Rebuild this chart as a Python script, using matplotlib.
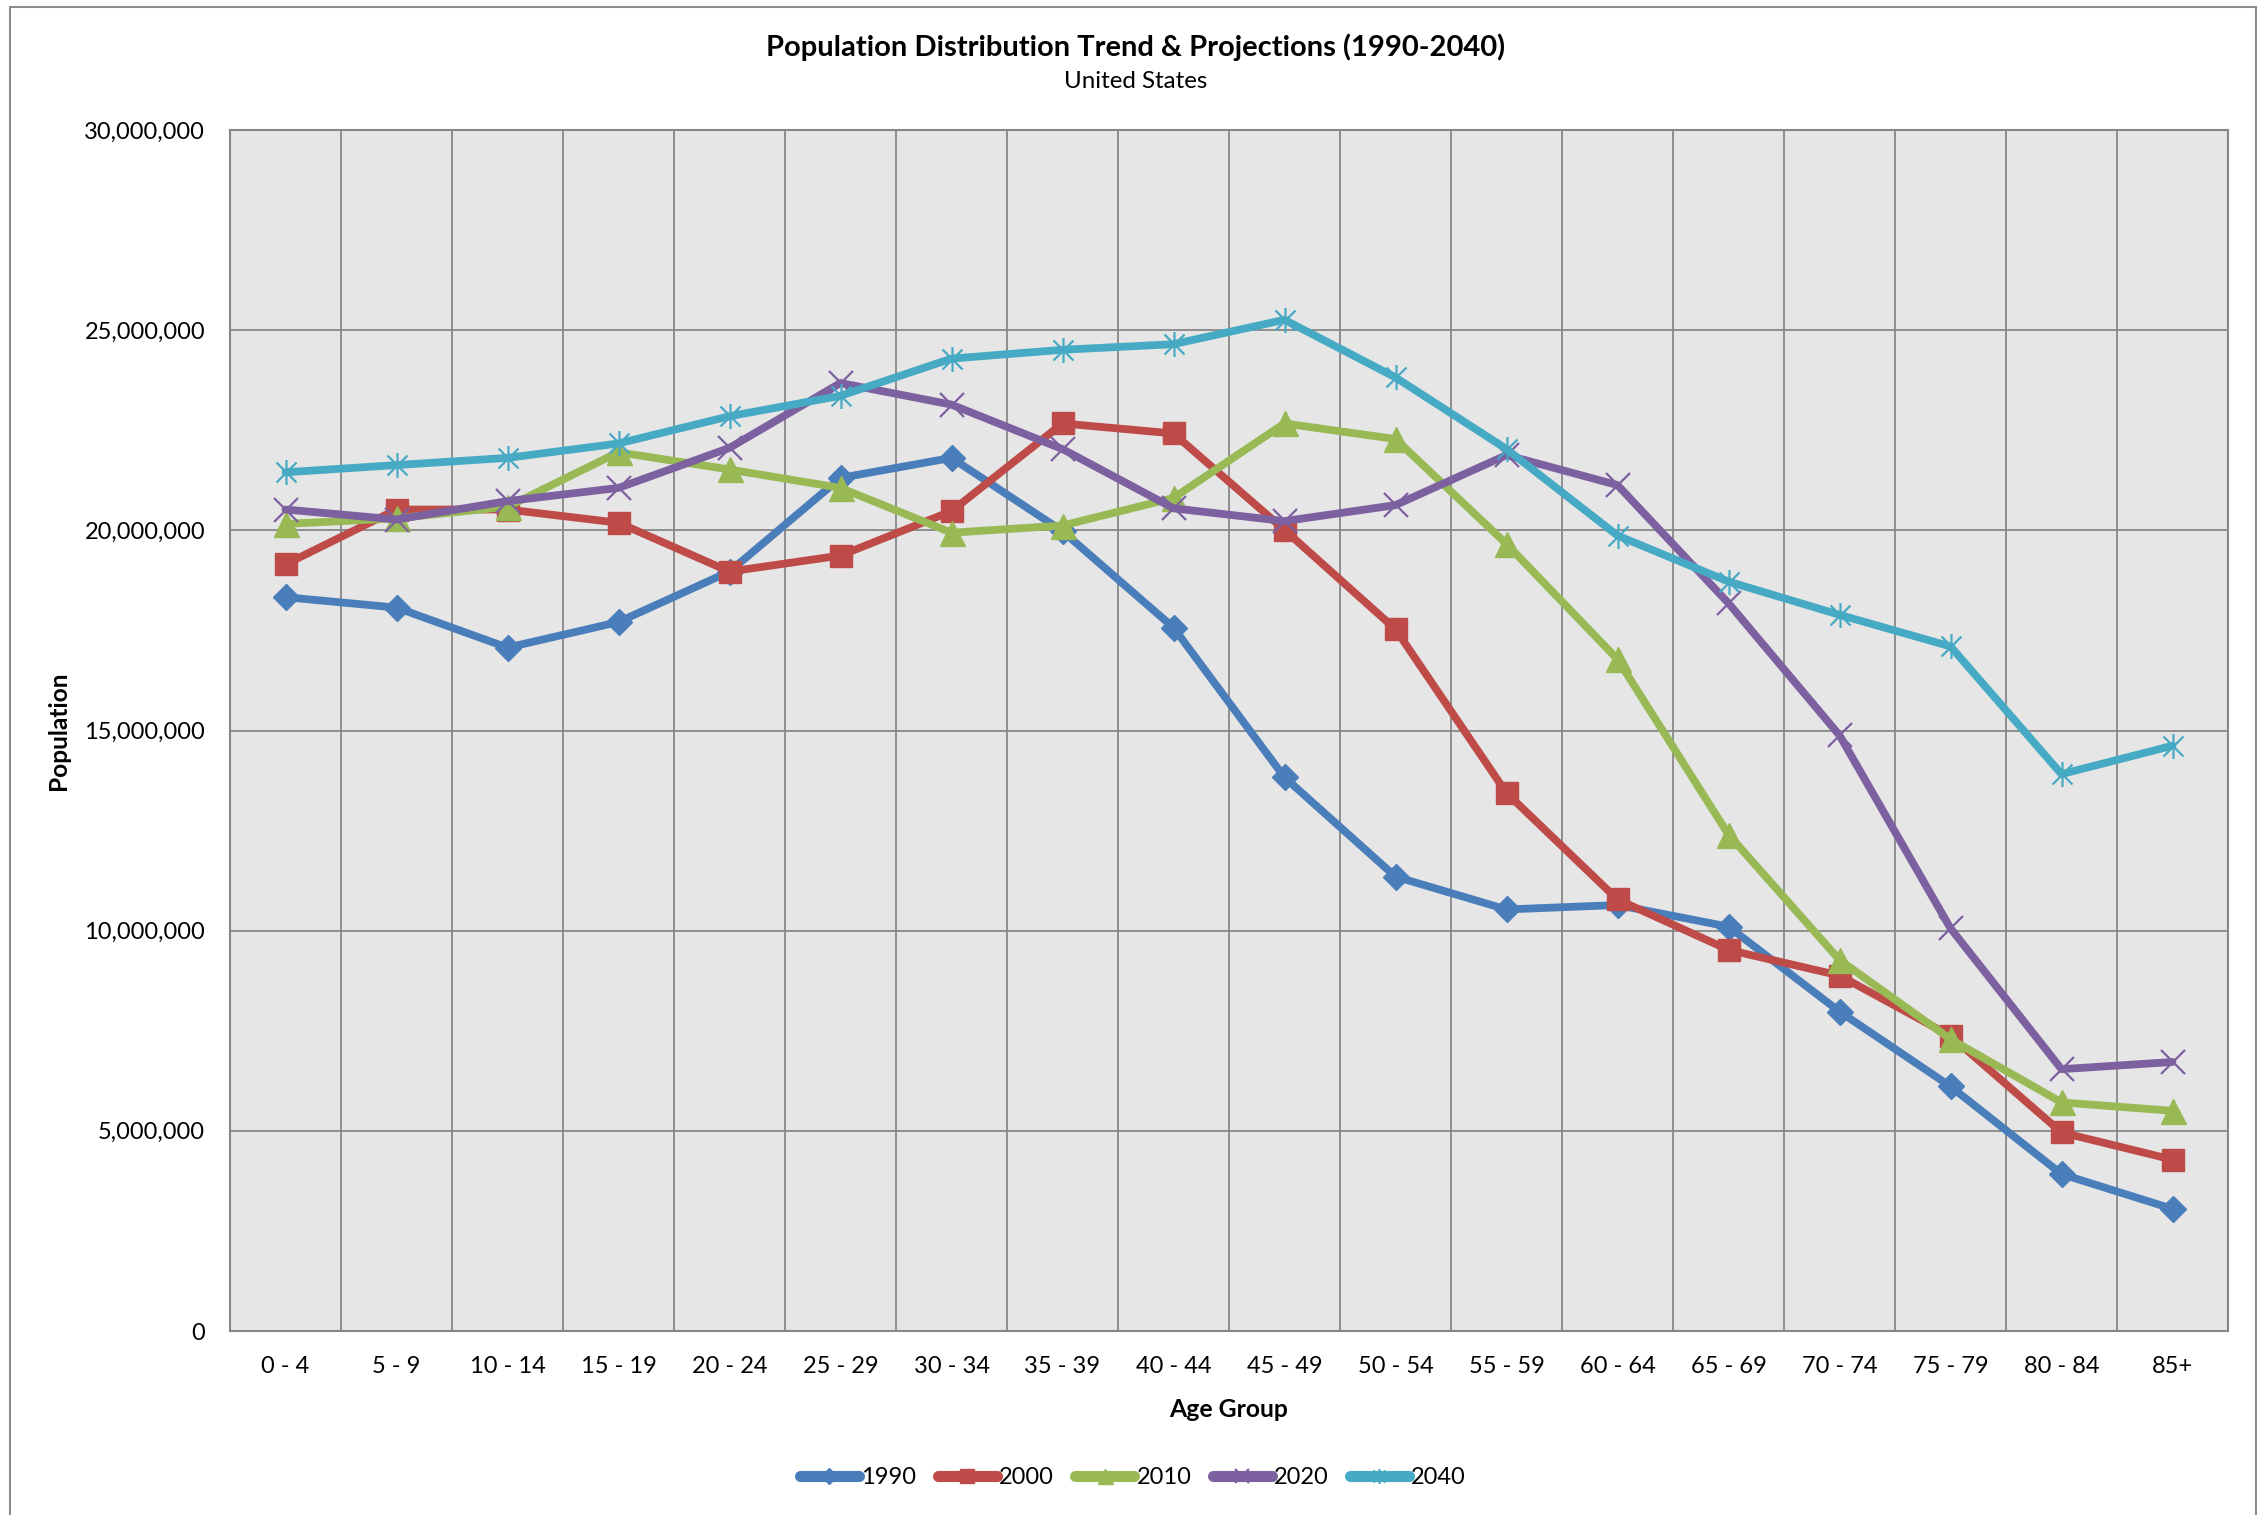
import matplotlib
matplotlib.use("Agg")
import matplotlib.pyplot as plt
from matplotlib.path import Path
from matplotlib.patches import Rectangle
from matplotlib.ticker import FuncFormatter, MultipleLocator
import numpy as np

plt.rcParams["font.family"] = ["Lato", "DejaVu Sans"]

age_groups = ["0 - 4", "5 - 9", "10 - 14", "15 - 19", "20 - 24", "25 - 29",
              "30 - 34", "35 - 39", "40 - 44", "45 - 49", "50 - 54", "55 - 59",
              "60 - 64", "65 - 69", "70 - 74", "75 - 79", "80 - 84", "85+"]

# population counts, millions
pop_1990 = [18.33, 18.07, 17.07, 17.71, 18.97, 21.31, 21.81, 19.98, 17.57,
            13.83, 11.35, 10.53, 10.64, 10.10, 7.98, 6.11, 3.92, 3.05]
pop_2000 = [19.15, 20.52, 20.52, 20.19, 18.97, 19.37, 20.48, 22.67, 22.42,
            20.01, 17.53, 13.44, 10.78, 9.52, 8.88, 7.37, 4.96, 4.28]
pop_2010 = [20.16, 20.30, 20.59, 21.95, 21.52, 21.06, 19.94, 20.12, 20.81,
            22.67, 22.28, 19.66, 16.78, 12.40, 9.27, 7.29, 5.71, 5.50]
pop_2020 = [20.52, 20.27, 20.73, 21.06, 22.06, 23.68, 23.14, 22.03, 20.55,
            20.23, 20.63, 21.88, 21.13, 18.18, 14.88, 10.06, 6.54, 6.72]
pop_2040 = [21.45, 21.63, 21.81, 22.17, 22.85, 23.36, 24.29, 24.51, 24.65,
            25.26, 23.82, 22.03, 19.87, 18.72, 17.89, 17.10, 13.91, 14.62]

years = ["1990", "2000", "2010", "2020", "2040"]
colors = ["#4A7EBB", "#BE4B48", "#98B954", "#7D60A0", "#46AAC5"]

# Excel style star: vertical bar plus an x
star = Path([(0, -1), (0, 1), (-0.8, -0.8), (0.8, 0.8), (-0.8, 0.8), (0.8, -0.8)],
            [Path.MOVETO, Path.LINETO, Path.MOVETO, Path.LINETO, Path.MOVETO, Path.LINETO])

styles = [
    dict(marker="D", ms=13),
    dict(marker="s", ms=16),
    dict(marker="^", ms=18),
    dict(marker="x", ms=17, mew=1.6),
    dict(marker=star, ms=18, mew=1.6),
]

fig = plt.figure(figsize=(22.57, 15.15), dpi=100)
fig.patches.append(Rectangle((10 / 2257, -0.01), 2246 / 2257, 1.01 - 7 / 1515,
                             transform=fig.transFigure, fill=False,
                             edgecolor="#8C8C8C", linewidth=1.5))

ax = fig.add_axes([230 / 2257, 1 - 1331 / 1515, 1998 / 2257, 1201 / 1515])
ax.set_facecolor("#E6E6E6")

x = np.arange(len(age_groups))
series = [pop_1990, pop_2000, pop_2010, pop_2020, pop_2040]
for yr, vals, c, st in zip(years, series, colors, styles):
    ax.plot(x, np.array(vals) * 1e6, color=c, lw=5.6, label=yr,
            markeredgecolor=c, markerfacecolor=c, solid_joinstyle="round",
            solid_capstyle="round", **st)

ax.set_xlim(-0.5, len(age_groups) - 0.5)
ax.set_ylim(0, 30e6)
ax.set_xticks(x)
ax.set_xticklabels(age_groups)
ax.set_xticks(np.arange(0.5, len(age_groups) - 1, 1), minor=True)
ax.yaxis.set_major_locator(MultipleLocator(5e6))
ax.yaxis.set_major_formatter(FuncFormatter(lambda v, p: f"{int(v):,}"))

grid_c = "#878787"
ax.grid(True, which="major", axis="y", color=grid_c, lw=1.3)
ax.grid(True, which="minor", axis="x", color=grid_c, lw=1.3)
ax.set_axisbelow(True)
for s in ax.spines.values():
    s.set_color(grid_c)
    s.set_linewidth(1.5)
ax.tick_params(which="both", length=0, labelsize=17, colors="black")
ax.tick_params(axis="y", pad=18)
ax.tick_params(axis="x", pad=18)

ax.set_xlabel("Age Group", fontsize=17.8, fontweight="bold", labelpad=15)
ax.set_ylabel("Population", fontsize=17.6, fontweight="bold", labelpad=10)

fig.text(0.503, 1 - 47 / 1515, "Population Distribution Trend & Projections (1990-2040)",
         ha="center", va="center", fontsize=21, fontweight="bold")
fig.text(0.503, 1 - 82 / 1515, "United States", ha="center", va="center", fontsize=17.4)

leg = fig.legend(loc="center", bbox_to_anchor=(1133 / 2257, 1 - 1478 / 1515), ncol=5,
                 frameon=False, fontsize=17, handlelength=2.5, handletextpad=0.1,
                 columnspacing=0.9, markerscale=0.6)
for h in leg.get_lines():
    h.set_linewidth(8)

fig.savefig("out.png", dpi=100)
